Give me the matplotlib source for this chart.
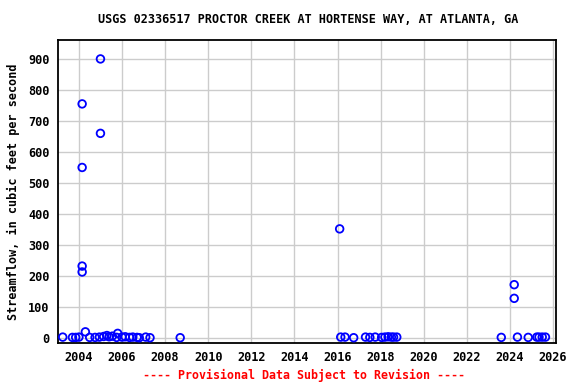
import numpy as np
import matplotlib
matplotlib.use("Agg")
import matplotlib.pyplot as plt

# Sample dates (decimal years) and streamflow values
dates = [2003.25, 2003.7, 2003.85, 2004.0, 2004.15, 2004.15, 2004.15, 2004.15, 2004.3,
         2004.5, 2004.75, 2004.95, 2005.0, 2005.0, 2005.15, 2005.3, 2005.4, 2005.55,
         2005.75, 2005.8, 2006.0, 2006.15, 2006.35, 2006.5, 2006.7, 2006.8, 2007.1,
         2007.3, 2008.7,
         2016.1, 2016.15, 2016.35, 2016.75, 2017.3, 2017.5, 2017.75, 2018.05, 2018.2,
         2018.35, 2018.5, 2018.6, 2018.75,
         2023.6, 2024.2, 2024.2, 2024.35, 2024.85, 2025.25, 2025.35, 2025.5, 2025.65]
flow = [3, 2, 2, 3, 755, 550, 232, 213, 20,
        2, 2, 3, 900, 660, 5, 8, 4, 6,
        2, 15, 3, 4, 2, 3, 2, 1, 3,
        1, 1,
        352, 3, 3, 1, 3, 2, 3, 2, 3,
        4, 3, 3, 3,
        2, 172, 128, 3, 2, 3, 3, 3, 3]

xticks = list(range(2004, 2027, 2))
yticks = list(range(0, 901, 100))

font = "DejaVu Sans Mono"

fig = plt.figure(figsize=(5.76, 3.84), dpi=100)
ax = fig.add_axes([0.1007, 0.1068, 0.8646, 0.789])

ax.scatter(dates, flow, s=30, facecolors="none", edgecolors="#0000ff", linewidths=1.3, zorder=3)

ax.set_xlim(2003.03, 2026.14)
ax.set_ylim(-16, 961)
ax.set_xticks(xticks)
ax.set_yticks(yticks)
ax.grid(color="#cccccc", linewidth=1)
ax.set_axisbelow(True)
for s in ax.spines.values():
    s.set_linewidth(1.3)
    s.set_color("black")
ax.tick_params(length=0, pad=6)
for lab in ax.get_xticklabels() + ax.get_yticklabels():
    lab.set_fontfamily(font)
    lab.set_fontweight("bold")
    lab.set_fontsize(8.6)

ax.set_ylabel("Streamflow, in cubic feet per second", fontfamily=font,
              fontweight="bold", fontsize=8.5, labelpad=6)
fig.text(0.535, 0.948, "USGS 02336517 PROCTOR CREEK AT HORTENSE WAY, AT ATLANTA, GA",
         ha="center", va="center", fontfamily=font, fontweight="bold", fontsize=8.5)
fig.text(0.528, 0.023, "---- Provisional Data Subject to Revision ----",
         ha="center", va="center", fontfamily=font, fontweight="bold", fontsize=8.4, color="red")

fig.savefig("out.png", dpi=100)
